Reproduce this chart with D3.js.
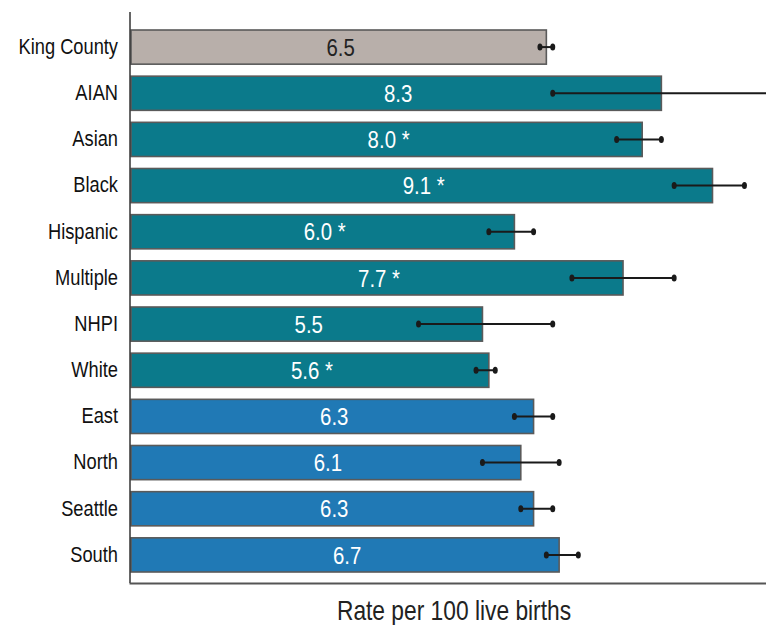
<!DOCTYPE html>
<html>
<head>
<meta charset="utf-8">
<script src="https://cdn.jsdelivr.net/npm/d3@7"></script>
<style>
  html, body { margin: 0; padding: 0; background: #fff; }
  svg { display: block; }
  text { font-family: "Liberation Sans", Arial, sans-serif; }
</style>
</head>
<body>
<svg id="chart" width="766" height="625"></svg>
<script>
const categories = ["King County", "AIAN", "Asian", "Black", "Hispanic", "Multiple", "NHPI", "White", "East", "North", "Seattle", "South"];
const values     = [6.5, 8.3, 8.0, 9.1, 6.0, 7.7, 5.5, 5.6, 6.3, 6.1, 6.3, 6.7];
const lowerCI    = [6.4, 6.6, 7.6, 8.5, 5.6, 6.9, 4.5, 5.4, 6.0, 5.5, 6.1, 6.5];
const upperCI    = [6.6, 10.4, 8.3, 9.6, 6.3, 8.5, 6.6, 5.7, 6.6, 6.7, 6.6, 7.0];
const significant = [false, false, true, true, true, true, false, true, false, false, false, false];
const groups     = ["total", "race", "race", "race", "race", "race", "race", "race", "region", "region", "region", "region"];
const xTitle = "Rate per 100 live births";

const colors = { total: "#b8afaa", race: "#0b7a8b", region: "#2079b5" };
const narrow = 0.85; // horizontal condensing to mimic a narrow typeface

const svg = d3.select("#chart");
const mLeft = 131, mRight = 770, mTop = 24, mBottom = 578;

const x = d3.scaleLinear().domain([0, 10]).range([mLeft, mRight]);
const y = d3.scaleBand().domain(categories).range([mTop, mBottom]).paddingInner(0.26).paddingOuter(0.13);

const data = categories.map((c, i) => ({ c, v: values[i], lo: lowerCI[i], hi: upperCI[i], sig: significant[i], g: groups[i] }));

// bars
svg.append("g").selectAll("rect").data(data).join("rect")
  .attr("x", x(0))
  .attr("y", d => y(d.c))
  .attr("width", d => x(d.v) - x(0))
  .attr("height", y.bandwidth())
  .attr("fill", d => colors[d.g])
  .attr("stroke", "#5a5a5a")
  .attr("stroke-width", 1.6);

// value labels
svg.append("g").selectAll("text").data(data).join("text")
  .attr("transform", d => `translate(${(x(0) + x(d.v)) / 2 + 2},${y(d.c) + y.bandwidth() / 2}) scale(${narrow},1)`)
  .attr("dy", "0.36em")
  .attr("text-anchor", "middle")
  .attr("font-size", 24)
  .attr("fill", d => d.g === "total" ? "#222" : "#fff")
  .text(d => d.v.toFixed(1) + (d.sig ? " *" : ""));

// error bars
const eb = svg.append("g");
eb.selectAll("line").data(data).join("line")
  .attr("x1", d => x(d.lo)).attr("x2", d => x(d.hi))
  .attr("y1", d => y(d.c) + y.bandwidth() / 2)
  .attr("y2", d => y(d.c) + y.bandwidth() / 2)
  .attr("stroke", "#1a1a1a").attr("stroke-width", 2);
eb.selectAll("ellipse.lo").data(data).join("ellipse").attr("class", "lo")
  .attr("cx", d => x(d.lo)).attr("cy", d => y(d.c) + y.bandwidth() / 2)
  .attr("rx", 2.5).attr("ry", 3.5).attr("fill", "#1a1a1a");
eb.selectAll("ellipse.hi").data(data).join("ellipse").attr("class", "hi")
  .attr("cx", d => x(d.hi)).attr("cy", d => y(d.c) + y.bandwidth() / 2)
  .attr("rx", 2.5).attr("ry", 3.5).attr("fill", "#1a1a1a");

// axes
const yAxis = d3.axisLeft(y).tickSize(0).tickPadding(12);
const gy = svg.append("g").attr("transform", `translate(${mLeft - 1},0)`).call(yAxis);
gy.select(".domain").remove();
gy.selectAll("text")
  .attr("font-size", 21.5).attr("fill", "#111")
  .attr("x", -12 / narrow)
  .attr("transform", `scale(${narrow},1)`);

svg.append("line").attr("x1", mLeft - 1).attr("x2", mLeft - 1).attr("y1", 12).attr("y2", 583)
  .attr("stroke", "#333").attr("stroke-width", 1.5);
svg.append("line").attr("x1", mLeft - 1.5).attr("x2", 766).attr("y1", 583.5).attr("y2", 583.5)
  .attr("stroke", "#555").attr("stroke-width", 2);

svg.append("text")
  .attr("transform", `translate(454,620) scale(${narrow},1)`)
  .attr("text-anchor", "middle")
  .attr("font-size", 26.8).attr("fill", "#222").text(xTitle);
</script>
</body>
</html>
